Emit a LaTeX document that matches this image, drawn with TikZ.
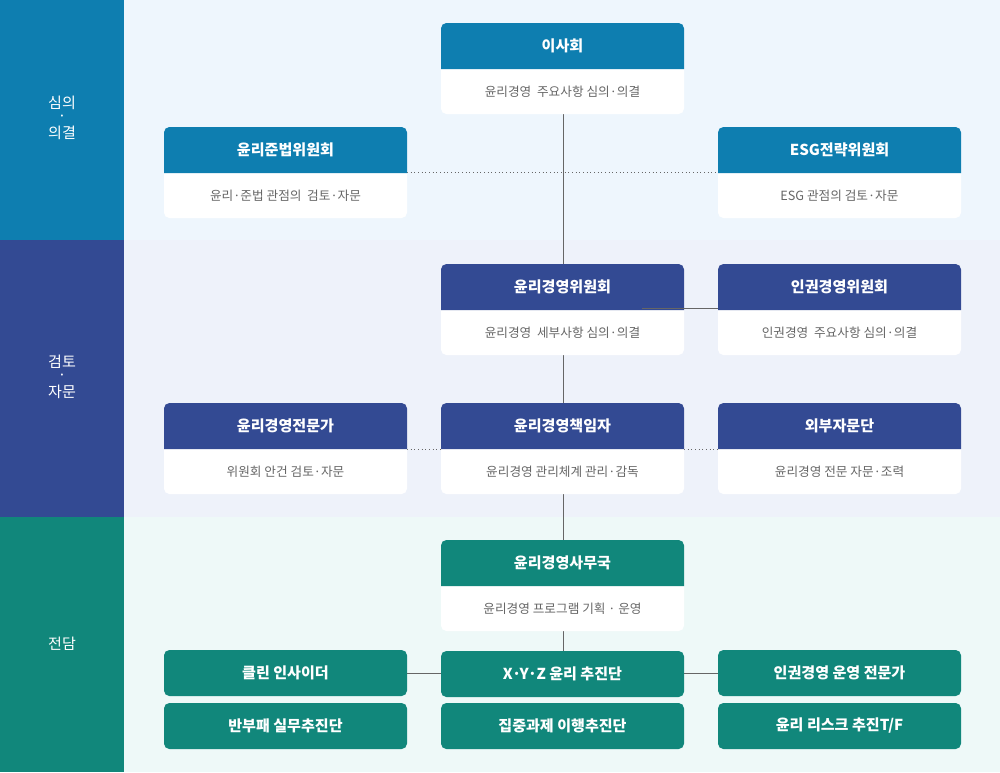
\documentclass[tikz,border=0pt]{standalone}
\usepackage{fontspec}
\setmainfont{Noto Sans CJK KR}
\begin{document}
\definecolor{cblue}{HTML}{0E7EB0}
\definecolor{cnavy}{HTML}{334A93}
\definecolor{cteal}{HTML}{11877B}
\definecolor{bgA}{HTML}{EEF6FD}
\definecolor{bgB}{HTML}{EEF2FA}
\definecolor{bgC}{HTML}{EEF9F8}
\definecolor{ln}{HTML}{666666}
\definecolor{tx}{HTML}{666666}
\begin{tikzpicture}[x=0.75pt,y=-0.75pt,
  hd/.style={text=white,font=\fontsize{11.3}{13}\selectfont\bfseries},
  bd/.style={text=tx,font=\fontsize{9.5}{11}\selectfont},
  side/.style={text=white,font=\fontsize{11.3}{13}\selectfont,inner sep=0pt},
  con/.style={draw=ln,line width=0.75pt},
  dot/.style={draw=ln,line width=0.75pt,dotted}]
\useasboundingbox (0,0) rectangle (1000,772);
\fill[bgA] (124,0) rectangle (1000,240);
\fill[bgB] (124,240) rectangle (1000,517);
\fill[bgC] (124,517) rectangle (1000,772);
\fill[cblue] (0,0) rectangle (124,240);
\fill[cnavy] (0,240) rectangle (124,517);
\fill[cteal] (0,517) rectangle (124,772);
\node[side] (s1a) at (62,103) {심의};
\node[side] (s1b) at (62,118) {·};
\node[side] (s1c) at (62,133) {의결};
\node[side] (s2a) at (62,362) {검토};
\node[side] (s2b) at (62,377) {·};
\node[side] (s2c) at (62,392) {자문};
\node[side] (s3) at (62,644) {전담};
\coordinate (v1) at (563,114); \coordinate (v2) at (563,264);
\draw[con] (v1) -- (v2);
\coordinate (d1) at (407,172); \coordinate (d2) at (718,172);
\draw[dot] (d1) -- (d2);
\coordinate (h1) at (642,308); \coordinate (h2) at (718,308);
\coordinate (v3) at (563,353); \coordinate (v4) at (563,403);
\draw[con] (v3) -- (v4);
\coordinate (d3) at (407,449); \coordinate (d4) at (441,449);
\coordinate (d5) at (684,449); \coordinate (d6) at (718,449);
\draw[dot] (d3) -- (d4); \draw[dot] (d5) -- (d6);
\coordinate (v5) at (563,492); \coordinate (v6) at (563,540);
\draw[con] (v5) -- (v6);
\coordinate (v7) at (563,629); \coordinate (v8) at (563,651);
\draw[con] (v7) -- (v8);
\coordinate (s4) at (407,673); \coordinate (s5) at (441,673);
\coordinate (s6) at (684,673); \coordinate (s7) at (718,673);
\draw[con] (s4) -- (s5); \draw[con] (s6) -- (s7);
\newcommand\tbox[6]{%
  \fill[white,rounded corners=4pt] (#2,#3) rectangle ++(243,91);
  \fill[#4] (#2,#3+46) [rounded corners=4pt] -- (#2,#3) -- (#2+243,#3) [sharp corners] -- (#2+243,#3+46) -- cycle;
  \node[hd] (#1h) at (#2+121.5,#3+23) {#5};
  \node[bd] (#1b) at (#2+121.5,#3+69) {#6};}
\newcommand\onebox[5]{%
  \fill[#4,rounded corners=4pt] (#2,#3) rectangle ++(243,46);
  \node[hd] (#1) at (#2+121.5,#3+23) {#5};}
\tbox{a}{441}{23}{cblue}{이사회}{윤리경영\ \ 주요사항 심의·의결}
\tbox{b}{164}{127}{cblue}{윤리준법위원회}{윤리·준법 관점의\ \ 검토·자문}
\tbox{c}{718}{127}{cblue}{ESG전략위원회}{ESG 관점의 검토·자문}
\tbox{d}{441}{264}{cnavy}{윤리경영위원회}{윤리경영\ \ 세부사항 심의·의결}
\tbox{e}{718}{264}{cnavy}{인권경영위원회}{인권경영\ \ 주요사항 심의·의결}
\tbox{f}{164}{403}{cnavy}{윤리경영전문가}{위원회 안건 검토·자문}
\tbox{g}{441}{403}{cnavy}{윤리경영책임자}{윤리경영 관리체계 관리·감독}
\tbox{h}{718}{403}{cnavy}{외부자문단}{윤리경영 전문 자문·조력}
\tbox{i}{441}{540}{cteal}{윤리경영사무국}{윤리경영 프로그램 기획\ ·\ 운영}
\draw[con] (h1) -- (h2);
\onebox{j}{164}{650}{cteal}{클린 인사이더}
\onebox{k}{441}{651}{cteal}{X·Y·Z 윤리 추진단}
\onebox{l}{718}{650}{cteal}{인권경영 운영 전문가}
\onebox{m}{164}{703}{cteal}{반부패 실무추진단}
\onebox{n}{441}{703}{cteal}{집중과제 이행추진단}
\onebox{o}{718}{703}{cteal}{윤리 리스크 추진T/F}
\end{tikzpicture}
\end{document}
